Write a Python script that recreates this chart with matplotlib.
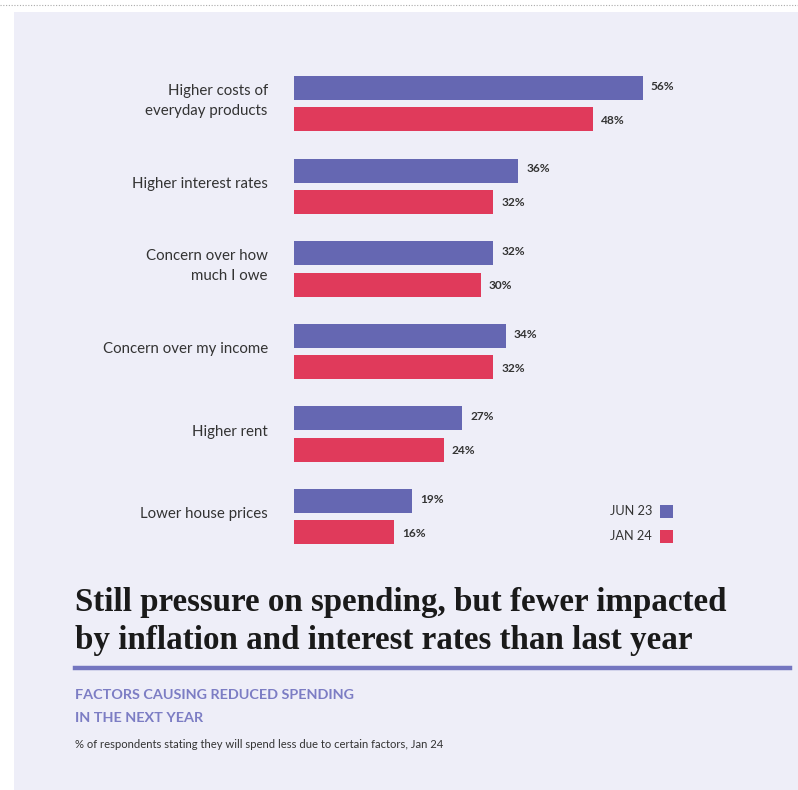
import matplotlib
matplotlib.use("Agg")
import matplotlib.pyplot as plt
from matplotlib.patches import Rectangle
from matplotlib.lines import Line2D
import numpy as np

categories = ["Higher costs of\neveryday products", "Higher interest rates",
              "Concern over how\nmuch I owe", "Concern over my income",
              "Higher rent", "Lower house prices"]
jun23 = [56, 36, 32, 34, 27, 19]
jan24 = [48, 32, 30, 32, 24, 16]
series_names = ["JUN 23", "JAN 24"]

PURPLE = "#6567b2"
RED = "#e03a5b"
BG = "#eeeef8"
W, H = 798, 790

fig = plt.figure(figsize=(W / 100, H / 100), dpi=100)
fig.patch.set_facecolor("white")

def fx(px):
    return px / W

def fy(py):
    return 1 - py / H

# background panel
fig.patches.append(Rectangle((fx(14), 0), 1 - fx(14), fy(12), transform=fig.transFigure,
                             facecolor=BG, edgecolor="none", zorder=-5))
# dotted top line
fig.lines.append(Line2D([0, 1], [fy(5), fy(5)], transform=fig.transFigure,
                        color="#aaaaaa", lw=0.8, ls=(0, (1, 1.5))))

SANS = ["Lato", "DejaVu Sans"]

# axes: x scale 6.23 px per %
x_left, x_right = 294, 794
y_top, y_bot = 60, 560
ax = fig.add_axes([fx(x_left), fy(y_bot), (x_right - x_left) / W, (y_bot - y_top) / H])
ax.set_zorder(2)
ax.set_facecolor("none")
ax.patch.set_alpha(0)
step = 82.6
ax.set_xlim(0, (x_right - x_left) / 6.23)
ax.set_ylim((y_bot - 88) / step, (y_top - 88) / step)
for s in ax.spines.values():
    s.set_visible(False)
ax.set_xticks([])
ax.set_yticks([])

idx = np.arange(len(categories))
off = 0.38
bh = 0.29
ax.barh(idx, jun23, height=bh, color=PURPLE)
ax.barh(idx + off, jan24, height=bh, color=RED)

for i in idx:
    ax.text(jun23[i] + 1.3, i - 0.02, f"{jun23[i]}%", va="center", ha="left",
            fontsize=8.6, fontweight="bold", color="#333333", family=SANS, clip_on=False)
    ax.text(jan24[i] + 1.3, i + off + 0.01, f"{jan24[i]}%", va="center", ha="left",
            fontsize=8.6, fontweight="bold", color="#333333", family=SANS, clip_on=False)
    ax.text(-4.2, i + off / 2 - 0.03, categories[i], va="center", ha="right",
            fontsize=10.8, color="#333333", family=SANS, linespacing=1.55, clip_on=False)

# legend
for k, (name, col) in enumerate(zip(series_names, [PURPLE, RED])):
    yc = 511 + k * 25
    fig.text(fx(652), fy(yc), name, ha="right", va="center", fontsize=9.2,
             color="#333333", family=SANS)
    fig.patches.append(Rectangle((fx(660), fy(yc + 6.5)), 13 / W, 13 / H,
                                 transform=fig.transFigure, facecolor=col, edgecolor="none"))

# title
title_font = dict(family=["Liberation Serif", "DejaVu Serif"], fontweight="bold",
                  fontsize=23.8, color="#1a1a1a")
fig.text(fx(75), fy(603), "Still pressure on spending, but fewer impacted",
         ha="left", va="center", **title_font)
fig.text(fx(75), fy(641), "by inflation and interest rates than last year",
         ha="left", va="center", **title_font)
fig.lines.append(Line2D([fx(75), fx(790)], [fy(668), fy(668)], transform=fig.transFigure,
                        color="#7476c0", lw=3.2))

sub_font = dict(family=SANS, fontweight="bold", fontsize=10.4, color="#7c7dc4")
fig.text(fx(75), fy(695), "FACTORS CAUSING REDUCED SPENDING", ha="left", va="center", **sub_font)
fig.text(fx(75), fy(718), "IN THE NEXT YEAR", ha="left", va="center", **sub_font)
fig.text(fx(75), fy(744), "% of respondents stating they will spend less due to certain factors, Jan 24",
         ha="left", va="center", fontsize=8.1, color="#333333", family=SANS)

fig.savefig("out.png", dpi=100, facecolor=fig.get_facecolor())
